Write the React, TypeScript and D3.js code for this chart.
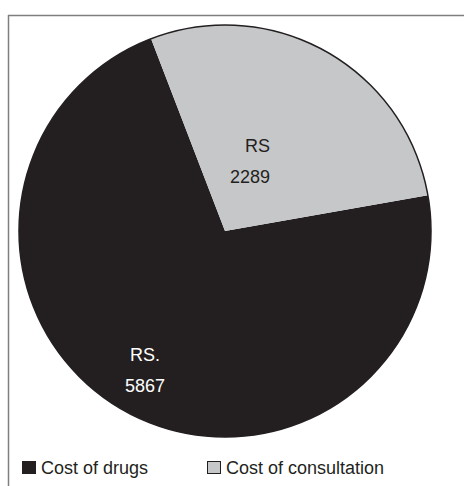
import React from "react";
import * as d3 from "d3";

// Cost breakdown (Rupees)
const categories = ["Cost of drugs", "Cost of consultation"];
const values = [5867, 2289];
const labelLines = [["RS.", "5867"], ["RS", "2289"]];
const colors = ["#231f20", "#c6c7c9"];

const W = 464;
const H = 486;
const cx = 225;
const cy = 231;
const R = 206;
const FONT = "Liberation Sans, Arial, Helvetica, sans-serif";

type Slice = { name: string; value: number; lines: string[]; color: string };

export default function App() {
  const data: Slice[] = categories.map((c, i) => ({
    name: c,
    value: values[i],
    lines: labelLines[i],
    color: colors[i],
  }));
  const start = (80 * Math.PI) / 180;
  const pie = d3
    .pie<Slice>()
    .sort(null)
    .value((d) => d.value)
    .startAngle(start)
    .endAngle(start + 2 * Math.PI);
  const arcs = pie(data);
  const arcGen = d3.arc<d3.PieArcDatum<Slice>>().innerRadius(0).outerRadius(R);

  // value label placement inside each slice (relative to pie centre)
  const labelPlace = [
    { x: -80, y: 130, anchor: "middle", fill: "#ffffff" },
    { x: 45, y: -79, anchor: "end", fill: "#231f20" },
  ];

  return (
    <svg
      width={W}
      height={H}
      style={{ position: "absolute", left: 0, top: 0, background: "#fff" }}
      fontFamily={FONT}
    >
      <rect x={0} y={0} width={W} height={H} fill="#fff" />
      {/* frame */}
      <line x1={8} y1={15.5} x2={W} y2={15.5} stroke="#7f7f7f" strokeWidth={1.5} />
      <line x1={8.5} y1={15} x2={8.5} y2={H} stroke="#7f7f7f" strokeWidth={1.5} />

      <g transform={`translate(${cx},${cy})`}>
        {arcs.map((a, i) => (
          <path key={i} d={arcGen(a) || ""} fill={a.data.color} />
        ))}
        <circle r={R} fill="none" stroke="#231f20" strokeWidth={1.5} />
        {arcs.map((a, i) => {
          const p = labelPlace[i];
          return (
            <text key={i} x={p.x} y={p.y} textAnchor={p.anchor} fontSize={18} fill={p.fill}>
              {a.data.lines.map((ln, j) => (
                <tspan key={j} x={p.x} dy={j === 0 ? 0 : 30.5}>
                  {ln}
                </tspan>
              ))}
            </text>
          );
        })}
      </g>

      {/* legend */}
      {data.map((d, i) => {
        const x0 = i === 0 ? 22 : 207;
        return (
          <g key={i}>
            <rect
              x={x0 + 0.5}
              y={461.5}
              width={13}
              height={12}
              fill={d.color}
              stroke="#231f20"
              strokeWidth={1}
            />
            <text x={x0 + 19} y={474} fontSize={18} fill="#231f20">
              {d.name}
            </text>
          </g>
        );
      })}
    </svg>
  );
}
